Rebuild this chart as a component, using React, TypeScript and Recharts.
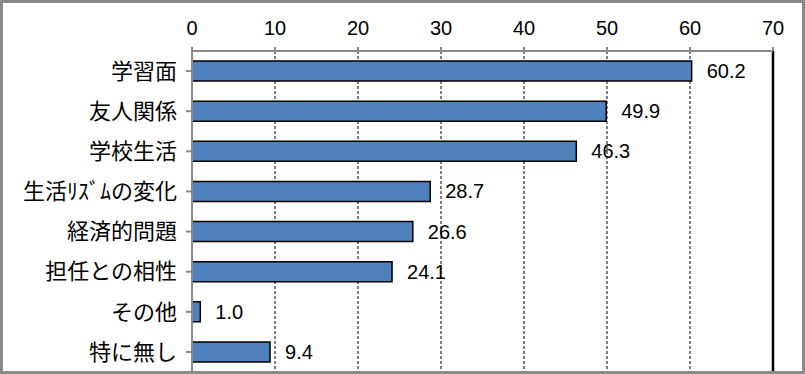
import { Bar, BarChart, CartesianGrid, LabelList, ReferenceLine, XAxis, YAxis } from "recharts";

const categories = ["学習面", "友人関係", "学校生活", "生活ﾘｽﾞﾑの変化", "経済的問題", "担任との相性", "その他", "特に無し"];
const values = [60.2, 49.9, 46.3, 28.7, 26.6, 24.1, 1.0, 9.4];
const xTicks = [0, 10, 20, 30, 40, 50, 60, 70];

const data = categories.map((name, i) => ({ name, value: values[i] }));

const FONT = "'Liberation Sans', 'Noto Sans CJK JP', sans-serif";
const AXIS_GRAY = "#8a8a8a";

export default function App() {
  return (
    <div
      style={{
        position: "fixed",
        top: 0,
        left: 0,
        width: 805,
        height: 374,
        boxSizing: "border-box",
        border: `3px solid ${AXIS_GRAY}`,
        background: "#fff",
        overflow: "hidden",
        fontFamily: FONT,
      }}
    >
      <div style={{ position: "absolute", top: -3, left: -3 }}>
        <BarChart
          width={805}
          height={374}
          data={data}
          layout="vertical"
          margin={{ top: 0, right: 32, bottom: 2, left: 0 }}
        >
          <CartesianGrid horizontal={false} stroke="#000" strokeDasharray="3 2" />
          <XAxis
            type="number"
            orientation="top"
            domain={[0, 70]}
            ticks={xTicks}
            height={51}
            stroke={AXIS_GRAY}
            strokeWidth={2}
            tickSize={4}
            tickMargin={12}
            tick={{ fill: "#000", fontSize: 20, fontFamily: FONT }}
          />
          <YAxis
            type="category"
            dataKey="name"
            width={192}
            stroke={AXIS_GRAY}
            strokeWidth={2}
            tickSize={6}
            tickMargin={9}
            interval={0}
            tick={{ fill: "#000", fontSize: 22, fontFamily: FONT }}
          />
          <ReferenceLine x={70} stroke="#000" strokeWidth={2.5} />
          <Bar
            dataKey="value"
            fill="#4F81BD"
            stroke="#000"
            strokeWidth={1.5}
            barSize={20}
            isAnimationActive={false}
          >
            <LabelList
              dataKey="value"
              position="right"
              offset={15}
              formatter={(v: any) => Number(v).toFixed(1)}
              style={{ fill: "#000", fontSize: 20, fontFamily: FONT }}
            />
          </Bar>
        </BarChart>
      </div>
    </div>
  );
}
